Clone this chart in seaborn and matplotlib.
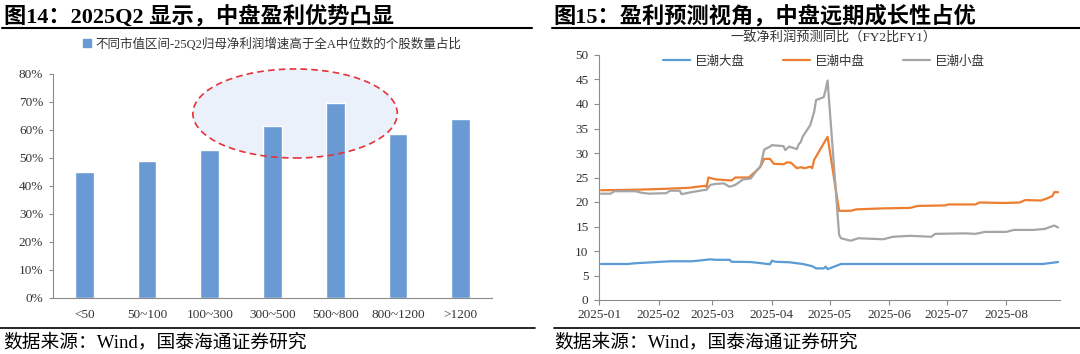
import pandas as pd
import matplotlib
matplotlib.use('Agg')
import matplotlib.pyplot as plt
import matplotlib.dates as mdates
from matplotlib.patches import Ellipse, Patch
from matplotlib.lines import Line2D
import seaborn as sns

sns.set_theme(style='white')
plt.rcParams['font.family'] = ['Liberation Serif', 'Noto Sans CJK SC', 'DejaVu Sans']
plt.rcParams['axes.unicode_minus'] = False

# ---- left panel data: share of stocks beating the all-A median (25Q2) ----
cap_bins = ['<50', '50~100', '100~300', '300~500', '500~800', '800~1200', '>1200']
share_above_median = [45.0, 49.0, 53.0, 61.5, 69.5, 58.5, 64.0]
pct_ticks = [0, 10, 20, 30, 40, 50, 60, 70, 80]

# ---- right panel data: consensus net profit growth FY2 vs FY1 ----
large_dates = ['2025-01-02', '2025-01-16', '2025-01-20', '2025-02-07', '2025-02-18',
               '2025-02-21', '2025-02-28', '2025-03-03', '2025-03-10', '2025-03-11',
               '2025-03-21', '2025-03-31', '2025-04-01', '2025-04-03', '2025-04-10',
               '2025-04-17', '2025-04-22', '2025-04-24', '2025-04-28', '2025-04-29',
               '2025-04-30', '2025-05-06', '2025-05-07', '2025-06-30', '2025-08-20',
               '2025-08-28']
large_growth = [7.35, 7.35, 7.5, 7.9, 7.9, 8.0, 8.3, 8.2, 8.2, 7.8,
                7.75, 7.3, 8.0, 7.8, 7.7, 7.35, 6.9, 6.45, 6.45, 6.8,
                6.3, 7.2, 7.35, 7.35, 7.35, 7.75]

mid_dates = ['2025-01-02', '2025-01-20', '2025-02-05', '2025-02-17', '2025-02-25',
             '2025-02-26', '2025-02-27', '2025-03-03', '2025-03-11', '2025-03-13',
             '2025-03-20', '2025-03-24', '2025-03-26', '2025-03-28', '2025-03-31',
             '2025-04-02', '2025-04-07', '2025-04-09', '2025-04-11', '2025-04-14',
             '2025-04-16', '2025-04-18', '2025-04-21', '2025-04-22', '2025-04-23',
             '2025-04-30', '2025-05-06', '2025-05-12', '2025-05-15', '2025-05-29',
             '2025-06-12', '2025-06-16', '2025-06-30', '2025-07-02', '2025-07-16',
             '2025-07-18', '2025-07-31', '2025-08-08', '2025-08-11', '2025-08-19',
             '2025-08-22', '2025-08-25', '2025-08-26', '2025-08-28']
mid_growth = [22.4, 22.5, 22.7, 22.9, 23.3, 23.1, 25.0, 24.6, 24.4, 25.0,
              25.0, 26.4, 27.2, 28.8, 28.8, 27.8, 27.7, 28.1, 28.0, 26.9,
              27.1, 26.9, 27.2, 26.9, 28.6, 33.3, 18.2, 18.2, 18.5, 18.7,
              18.8, 19.2, 19.3, 19.5, 19.5, 19.9, 19.8, 19.9, 20.4, 20.3,
              20.7, 21.2, 22.0, 22.0]

small_dates = ['2025-01-02', '2025-01-07', '2025-01-09', '2025-01-20', '2025-01-23',
               '2025-01-27', '2025-02-05', '2025-02-07', '2025-02-12', '2025-02-13',
               '2025-02-18', '2025-02-24', '2025-02-26', '2025-02-28', '2025-03-03',
               '2025-03-07', '2025-03-10', '2025-03-13', '2025-03-17', '2025-03-21',
               '2025-03-24', '2025-03-26', '2025-03-28', '2025-03-31', '2025-04-01',
               '2025-04-07', '2025-04-08', '2025-04-10', '2025-04-14', '2025-04-15',
               '2025-04-16', '2025-04-17', '2025-04-21', '2025-04-23', '2025-04-24',
               '2025-04-28', '2025-04-29', '2025-04-30', '2025-05-06', '2025-05-07',
               '2025-05-12', '2025-05-16', '2025-05-29', '2025-06-03', '2025-06-12',
               '2025-06-23', '2025-06-25', '2025-07-11', '2025-07-16', '2025-07-21',
               '2025-08-01', '2025-08-05', '2025-08-15', '2025-08-21', '2025-08-26',
               '2025-08-28']
small_growth = [21.7, 21.7, 22.2, 22.2, 21.9, 21.7, 21.8, 22.3, 22.3, 21.6,
                22.0, 22.4, 22.5, 23.5, 23.7, 23.8, 23.1, 23.5, 24.6, 24.8,
                26.4, 27.2, 30.7, 31.3, 31.6, 31.4, 30.6, 31.3, 30.8, 31.8,
                32.2, 33.3, 35.7, 38.4, 40.8, 41.4, 42.9, 44.8, 13.3, 12.6,
                12.1, 12.6, 12.4, 12.9, 13.1, 12.9, 13.5, 13.6, 13.5, 13.9,
                13.9, 14.3, 14.3, 14.5, 15.2, 14.8]
growth_ticks = [0, 5, 10, 15, 20, 25, 30, 35, 40, 45, 50]

series_names = ['巨潮大盘', '巨潮中盘', '巨潮小盘']
series_colors = ['#5B9BD5', '#ED7D31', '#A5A5A5']

# ---- figure in pixel units ----
W, H = 1080, 354
fig = plt.figure(figsize=(W / 100, H / 100), dpi=100)
fig.patch.set_facecolor('white')


def fx(px):
    return px / W


def fy(py):
    return 1 - py / H


tick_color = '#333333'
spine_color = '#8C8C8C'

# ---------------- left: bar chart ----------------
ax1 = fig.add_axes([fx(53), fy(298), (492 - 53) / W, (298 - 74) / H])
df_bar = pd.DataFrame({'bin': cap_bins, 'share': share_above_median})
sns.barplot(data=df_bar, x='bin', y='share', color='#6A9AD4', saturation=1,
            width=0.3, ax=ax1, zorder=2)

# highlighted group (300~500, 500~800)
ax1.add_patch(Ellipse((3.36, 65.9), 3.26, 31.8, facecolor='#EAF1FA',
                      edgecolor='none', zorder=1, clip_on=False))
ax1.add_patch(Ellipse((3.36, 65.9), 3.26, 31.8, fill=False, edgecolor='#E5323B',
                      lw=1.2, linestyle=(0, (4, 2.5)), zorder=3, clip_on=False))

ax1.set_xlim(-0.5, 6.5)
ax1.set_ylim(0, 80)
ax1.set_yticks(pct_ticks)
ax1.set_yticklabels([f'{v}%' for v in pct_ticks])
ax1.set_xticks(range(len(cap_bins)))
ax1.set_xticklabels(cap_bins)
ax1.set_xticks([i - 0.5 for i in range(len(cap_bins) + 1)], minor=True)
ax1.tick_params(axis='x', which='major', length=0, pad=8, labelsize=9.5, labelcolor=tick_color)
ax1.tick_params(axis='x', which='minor', length=4, width=0.8, color=spine_color, direction='out')
ax1.tick_params(axis='y', length=3, width=0.8, color=spine_color, direction='out', pad=4,
                labelsize=9.5, labelcolor=tick_color, left=True)
ax1.set_xlabel('')
ax1.set_ylabel('')
sns.despine(ax=ax1)
for s in ['left', 'bottom']:
    ax1.spines[s].set_color(spine_color)
    ax1.spines[s].set_linewidth(0.8)

ax1.legend(handles=[Patch(color='#6A9AD4')],
           labels=['不同市值区间-25Q2归母净利润增速高于全A中位数的个股数量占比'],
           loc='center', bbox_to_anchor=(0.5, 1.134), frameon=False, fontsize=9,
           handlelength=0.6, handleheight=0.6, handletextpad=0.4,
           labelcolor=tick_color)

# ---------------- right: line chart ----------------
ax2 = fig.add_axes([fx(599), fy(300), (1060 - 599) / W, (300 - 55) / H])
for dates, vals, name, col in zip([large_dates, mid_dates, small_dates],
                                  [large_growth, mid_growth, small_growth],
                                  series_names, series_colors):
    sns.lineplot(x=pd.to_datetime(dates), y=vals, color=col, lw=1.6,
                 estimator=None, label=name, ax=ax2)

ax2.set_xlim(pd.Timestamp('2025-01-01'), pd.Timestamp('2025-08-29'))
ax2.set_ylim(0, 50)
ax2.set_yticks(growth_ticks)
ax2.xaxis.set_major_locator(mdates.MonthLocator())
ax2.xaxis.set_major_formatter(mdates.DateFormatter('%Y-%m'))
ax2.tick_params(axis='x', length=3.5, width=0.8, color=spine_color, direction='out', pad=3,
                labelsize=9.5, labelcolor=tick_color, bottom=True)
ax2.tick_params(axis='y', length=3.5, width=0.8, color=spine_color, direction='out', pad=4,
                labelsize=9.5, labelcolor=tick_color, left=True)
ax2.set_xlabel('')
ax2.set_ylabel('')
sns.despine(ax=ax2)
for s in ['left', 'bottom']:
    ax2.spines[s].set_color(spine_color)
    ax2.spines[s].set_linewidth(0.8)

ax2.legend(loc='center', bbox_to_anchor=(0.488, 0.973), ncol=3, frameon=False,
           fontsize=9, handlelength=2.1, columnspacing=3.1, handletextpad=0.4,
           labelcolor=tick_color)

fig.text(fx(834), fy(38), '一致净利润预测同比（FY2比FY1）', ha='center', va='center',
         fontsize=9.5, color=tick_color)

# ---------------- titles, rules and sources ----------------
fig.text(fx(4), fy(16), '图14：2025Q2 显示，中盘盈利优势凸显', ha='left', va='center',
         fontsize=16, fontweight='bold', color='black')
fig.text(fx(553), fy(16), '图15：盈利预测视角，中盘远期成长性占优', ha='left', va='center',
         fontsize=16, fontweight='bold', color='black')

for x0, x1 in [(2, 532), (552, 1080)]:
    fig.add_artist(Line2D([fx(x0), fx(x1)], [fy(28), fy(28)], color='black', lw=1.5))
for x0, x1 in [(0, 535), (554, 1080)]:
    fig.add_artist(Line2D([fx(x0), fx(x1)], [fy(328), fy(328)], color='black', lw=1.2))

fig.text(fx(3), fy(342), '数据来源：Wind，国泰海通证券研究', ha='left', va='center',
         fontsize=13.5, color='black')
fig.text(fx(554), fy(342), '数据来源：Wind，国泰海通证券研究', ha='left', va='center',
         fontsize=13.5, color='black')

fig.savefig('out.png', dpi=100)
